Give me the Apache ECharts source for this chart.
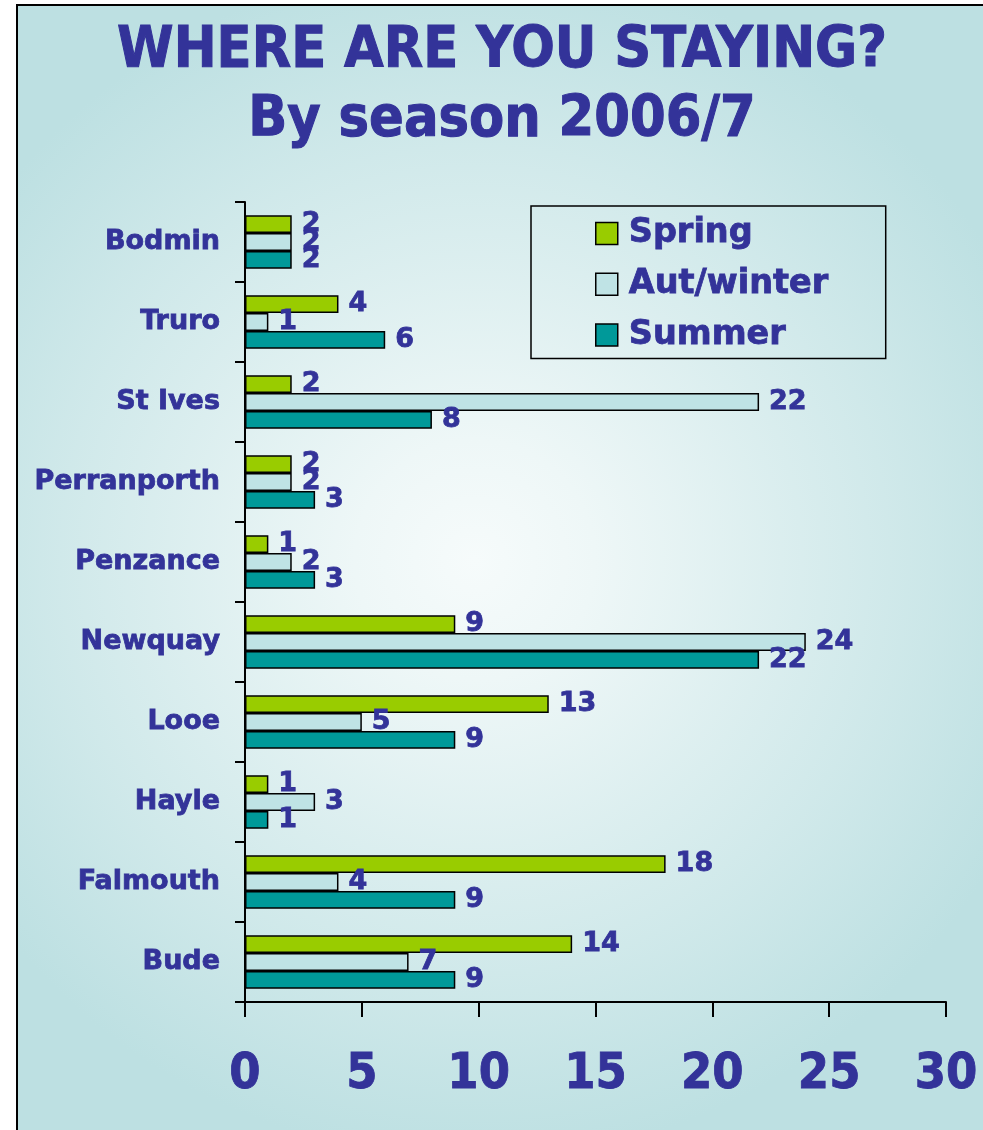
<!DOCTYPE html>
<html>
<head>
<meta charset="utf-8">
<script src="https://cdn.jsdelivr.net/npm/echarts@6/dist/echarts.min.js"></script>
<style>
  html, body { margin: 0; padding: 0; background: #ffffff; }
  #chart { width: 983px; height: 1130px; }
</style>
</head>
<body>
<div id="chart"></div>
<script>
// Towns, listed top to bottom as they appear on the chart
const towns = ['Bodmin', 'Truro', 'St Ives', 'Perranporth', 'Penzance',
               'Newquay', 'Looe', 'Hayle', 'Falmouth', 'Bude'];

// Number of visitors staying in each town, per season
const spring    = [2, 4, 2, 2, 1, 9, 13, 1, 18, 14];
const autWinter = [2, 1, 22, 2, 2, 24, 5, 3, 4, 7];
const summer    = [2, 6, 8, 3, 3, 22, 9, 1, 9, 9];

const seasonNames = ['Spring', 'Aut/winter', 'Summer'];
const xTicks = [0, 5, 10, 15, 20, 25, 30];
const titleLines = ['WHERE ARE YOU STAYING?', 'By season 2006/7'];

const ink = '#333399';
const seasonColors = ['#99cc00', '#bfe3e5', '#009999'];
const seasonValues = [spring, autWinter, summer];

// a thin outline in the text colour gives the heavy bold look
const heavy = { textBorderColor: ink, textBorderWidth: 0.8 };

const chart = echarts.init(document.getElementById('chart'));

const series = seasonNames.map((name, i) => ({
  name: name,
  type: 'bar',
  data: seasonValues[i],
  barGap: '0%',
  barCategoryGap: '33%',
  itemStyle: { color: seasonColors[i], borderColor: '#000', borderWidth: 1.5 },
  label: Object.assign({
    show: true,
    position: 'right',
    distance: 10,
    color: ink,
    fontFamily: 'DejaVu Sans',
    fontWeight: 'bold',
    fontSize: 27
  }, heavy)
}));

const titleText = (text, baseline) => ({
  type: 'text',
  x: 502,
  y: baseline,
  silent: true,
  style: {
    text: text,
    align: 'center',
    verticalAlign: 'bottom',
    fill: ink,
    font: 'bold 57px "DejaVu Sans Condensed"',
    stroke: ink,
    lineWidth: 1
  }
});

chart.setOption({
  backgroundColor: '#ffffff',
  animation: false,
  graphic: [{
    type: 'rect',
    z: -100,
    silent: true,
    shape: { x: 17, y: 5, width: 1000, height: 1200 },
    style: {
      fill: new echarts.graphic.RadialGradient(475, 560, 600, [
        { offset: 0, color: '#f6fbfb' },
        { offset: 0.2, color: '#eef7f7' },
        { offset: 1, color: '#bde0e2' }
      ], true),
      stroke: '#000',
      lineWidth: 2
    }
  },
  titleText(titleLines[0], 81),
  titleText(titleLines[1], 150)
  ],
  legend: {
    data: seasonNames,
    orient: 'vertical',
    left: 531,
    top: 206,
    padding: [10, 57, 6, 64],
    borderColor: '#000',
    borderWidth: 1.5,
    icon: 'rect',
    itemWidth: 22,
    itemHeight: 22,
    itemGap: 16,
    itemTextGap: 11,
    itemStyle: { borderColor: '#000', borderWidth: 1.5 },
    textStyle: Object.assign({
      color: ink,
      fontFamily: 'DejaVu Sans',
      fontWeight: 'bold',
      fontSize: 33.5,
      lineHeight: 33.5,
      padding: [0, 0, 0, 6]
    }, heavy)
  },
  grid: { left: 245, right: 37, top: 202, bottom: 128, containLabel: false },
  xAxis: {
    type: 'value',
    min: 0,
    max: 30,
    interval: 5,
    axisLine: { show: true, lineStyle: { color: '#000', width: 2 } },
    axisTick: { show: true, length: 15, lineStyle: { color: '#000', width: 2 } },
    splitLine: { show: false },
    axisLabel: Object.assign({
      margin: 48,
      color: ink,
      fontFamily: 'DejaVu Sans Condensed',
      fontWeight: 'bold',
      fontSize: 50,
      formatter: v => xTicks.includes(v) ? String(v) : ''
    }, heavy)
  },
  yAxis: {
    type: 'category',
    data: towns,
    inverse: true,
    axisLine: { show: true, lineStyle: { color: '#000', width: 2 } },
    axisTick: { show: true, length: 10, lineStyle: { color: '#000', width: 2 } },
    axisLabel: Object.assign({
      margin: 25,
      color: ink,
      fontFamily: 'DejaVu Sans',
      fontWeight: 'bold',
      fontSize: 27
    }, heavy)
  },
  series: series
});
</script>
</body>
</html>
